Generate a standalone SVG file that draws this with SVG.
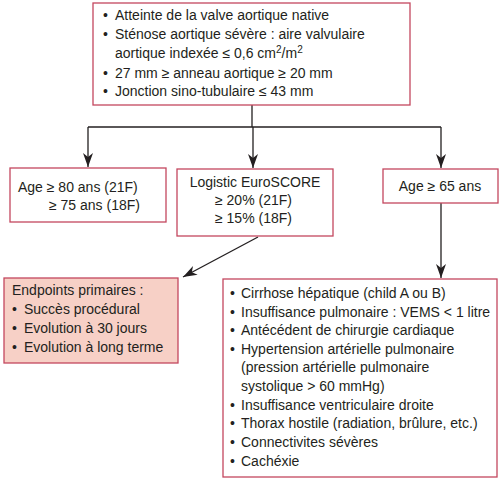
<svg xmlns="http://www.w3.org/2000/svg" width="501" height="481" viewBox="0 0 501 481">
<defs>
<marker id="ah" viewBox="0 0 14 10" refX="14" refY="5" markerWidth="14" markerHeight="10" markerUnits="userSpaceOnUse" orient="auto">
<path d="M0,0 L14,5 L0,10 L4,5 Z" fill="#231f20"/>
</marker>
<style>
.box{fill:#fff;stroke:#c4475f;stroke-width:1.3}
.pink{fill:#f7d0c6;stroke:#c4475f;stroke-width:1.3}
text{font-family:"Liberation Sans",Arial,sans-serif;font-size:14px;fill:#231f20}
.c{text-anchor:middle}
.ln{fill:none;stroke:#231f20;stroke-width:1.3}
</style>
</defs>
<rect width="501" height="481" fill="#fff"/>
<g id="connectors">
<path class="ln" d="M252,105 V127"/>
<path class="ln" d="M88,127 H441"/>
<path class="ln" d="M88,127 V167" marker-end="url(#ah)"/>
<path class="ln" d="M253,127 V168" marker-end="url(#ah)"/>
<path class="ln" d="M441,127 V168" marker-end="url(#ah)"/>
<path class="ln" d="M441,203 V278" marker-end="url(#ah)"/>
<path class="ln" d="M258,237 L183,277" marker-end="url(#ah)"/>
</g>
<g id="top">
<rect class="box" x="93" y="3" width="317" height="102"/>
<text x="103" y="20">• <tspan x="115">Atteinte de la valve aortique native</tspan></text>
<text x="103" y="39">• <tspan x="115">Sténose aortique sévère : aire valvulaire</tspan></text>
<text x="115" y="58">aortique indexée ≤ 0,6 cm<tspan font-size="10" dy="-5">2</tspan><tspan dy="5">/m</tspan><tspan font-size="10" dy="-5">2</tspan></text>
<text x="103" y="78">• <tspan x="115">27 mm ≥ anneau aortique ≥ 20 mm</tspan></text>
<text x="103" y="96">• <tspan x="115">Jonction sino-tubulaire ≤ 43 mm</tspan></text>
</g>
<g id="age80">
<rect class="box" x="10" y="168" width="156" height="54"/>
<text x="18" y="192">Age ≥ 80 ans (21F)</text>
<text x="49" y="210">≥ 75 ans (18F)</text>
</g>
<g id="euroscore">
<rect class="box" x="177" y="169" width="156" height="67"/>
<text class="c" x="255" y="187">Logistic EuroSCORE</text>
<text x="215" y="205">≥ 20% (21F)</text>
<text x="215" y="223">≥ 15% (18F)</text>
</g>
<g id="age65">
<rect class="box" x="383" y="169" width="115" height="34"/>
<text class="c" x="440" y="191">Age ≥ 65 ans</text>
</g>
<g id="endpoints">
<rect class="pink" x="4" y="278" width="174" height="85"/>
<text x="12" y="295">Endpoints primaires :</text>
<text x="12" y="314">• <tspan x="24">Succès procédural</tspan></text>
<text x="12" y="333">• <tspan x="24">Evolution à 30 jours</tspan></text>
<text x="12" y="352">• <tspan x="24">Evolution à long terme</tspan></text>
</g>
<g id="contraindications">
<rect class="box" x="223" y="279" width="274" height="198"/>
<text x="230" y="298">• <tspan x="241">Cirrhose hépatique (child A ou B)</tspan></text>
<text x="230" y="317">• <tspan x="241">Insuffisance pulmonaire : VEMS &lt; 1 litre</tspan></text>
<text x="230" y="335">• <tspan x="241">Antécédent de chirurgie cardiaque</tspan></text>
<text x="230" y="354">• <tspan x="241">Hypertension artérielle pulmonaire</tspan></text>
<text x="241" y="372">(pression artérielle pulmonaire</text>
<text x="241" y="391">systolique &gt; 60 mmHg)</text>
<text x="230" y="410">• <tspan x="241">Insuffisance ventriculaire droite</tspan></text>
<text x="230" y="428">• <tspan x="241">Thorax hostile (radiation, brûlure, etc.)</tspan></text>
<text x="230" y="447">• <tspan x="241">Connectivites sévères</tspan></text>
<text x="230" y="466">• <tspan x="241">Cachéxie</tspan></text>
</g>
</svg>
